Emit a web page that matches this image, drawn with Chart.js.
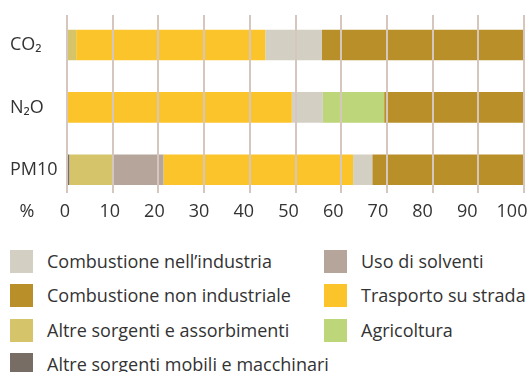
<!DOCTYPE html>
<html>
<head>
<meta charset="utf-8">
<script src="https://cdn.jsdelivr.net/npm/chart.js@4/dist/chart.umd.min.js"></script>
<style>
  html, body { margin: 0; padding: 0; background: #fff; }
  #wrap { position: relative; width: 531px; height: 372px; font-family: "Open Sans", sans-serif; color: #333; }
  #chartBox { position: absolute; left: 0; top: 0; width: 531px; height: 240px; }
  #legend {
    position: absolute; left: 10px; top: 250px;
    display: grid; grid-auto-flow: column;
    grid-template-rows: repeat(4, 34.3px); grid-template-columns: 314px auto;
  }
  .item { display: flex; align-items: flex-start; font-size: 18px; line-height: 22px; white-space: nowrap; }
  .sw { width: 23px; height: 23px; margin-right: 14px; flex: none; }
</style>
</head>
<body>
<div id="wrap">
  <div id="chartBox"><canvas id="c"></canvas></div>
  <div id="legend"></div>
</div>
<script>
// Pollutants on the category axis
const categories = ['CO₂', 'N₂O', 'PM10'];
// Percentage tick labels
const tickValues = [0, 10, 20, 30, 40, 50, 60, 70, 80, 90, 100];
const unitLabel = '%';

// Share (%) of each source for CO₂, N₂O, PM10
const altreMobili      = [0,    0,    0.5];
const altreSorgenti    = [2.0,  0,    9.7];
const usoSolventi      = [0,    0,    10.9];
const trasporto        = [41.4, 49.2, 41.5];
const combIndustria    = [12.4, 6.8,  4.2];
const agricoltura      = [0,    13.4, 0];
const combNonIndustr   = [44.2, 30.6, 33.2];

const seriesNames = {
  altreMobili: 'Altre sorgenti mobili e macchinari',
  altreSorgenti: 'Altre sorgenti e assorbimenti',
  usoSolventi: 'Uso di solventi',
  trasporto: 'Trasporto su strada',
  combIndustria: 'Combustione nell’industria',
  agricoltura: 'Agricoltura',
  combNonIndustr: 'Combustione non industriale'
};
const seriesColors = {
  altreMobili: '#776d65',
  altreSorgenti: '#d6c46b',
  usoSolventi: '#b5a59a',
  trasporto: '#fbc42b',
  combIndustria: '#d3cfc3',
  agricoltura: '#bdd67a',
  combNonIndustr: '#b98f29'
};
const seriesValues = { altreMobili, altreSorgenti, usoSolventi, trasporto, combIndustria, agricoltura, combNonIndustr };
const stackOrder = ['altreMobili', 'altreSorgenti', 'usoSolventi', 'trasporto', 'combIndustria', 'agricoltura', 'combNonIndustr'];
const legendOrder = ['combIndustria', 'combNonIndustr', 'altreSorgenti', 'altreMobili', 'usoSolventi', 'trasporto', 'agricoltura'];

const FONT = '"Open Sans", sans-serif';
// Position of the unit label on the label axis, left of the zero tick
const UNIT_POS = -8.5;

// Vertical gridlines drawn over the bars
const gridOverlay = {
  id: 'gridOverlay',
  afterDatasetsDraw(chart, args, opts) {
    const { ctx } = chart;
    const x = chart.scales.x;
    ctx.save();
    ctx.strokeStyle = opts.color;
    ctx.lineWidth = opts.width;
    tickValues.forEach(v => {
      const px = Math.round(x.getPixelForValue(v));
      ctx.beginPath();
      ctx.moveTo(px, opts.top);
      ctx.lineTo(px, opts.bottom);
      ctx.stroke();
    });
    ctx.restore();
  }
};

const datasets = stackOrder.map(k => ({
  label: seriesNames[k],
  data: seriesValues[k],
  backgroundColor: seriesColors[k],
  borderWidth: 0,
  categoryPercentage: 1,
  barPercentage: 0.49
}));

const chart = new Chart(document.getElementById('c'), {
  type: 'bar',
  data: { labels: categories, datasets },
  options: {
    indexAxis: 'y',
    responsive: true,
    maintainAspectRatio: false,
    animation: false,
    layout: { padding: { left: 10, right: 7, top: 12, bottom: 0 } },
    plugins: {
      legend: { display: false },
      tooltip: { enabled: false },
      gridOverlay: { color: '#d5c7be', width: 2, top: 15, bottom: 193 }
    },
    scales: {
      x: { display: false, stacked: true, min: 0, max: 100 },
      xl: {
        type: 'linear',
        position: 'bottom',
        min: 0.447,
        max: 102.68,
        grid: { display: false },
        border: { display: false },
        afterBuildTicks: s => { s.ticks = [UNIT_POS, ...tickValues].map(v => ({ value: v })); },
        afterFit: s => { s.height = 39; s.paddingLeft = 0; s.paddingRight = 0; },
        ticks: {
          autoSkip: false, maxRotation: 0, padding: -8, color: '#333',
          font: { family: FONT, size: 18 },
          callback: v => (v === UNIT_POS ? unitLabel : String(v))
        }
      },
      y: {
        stacked: true,
        grid: { display: false },
        border: { display: false },
        afterFit: s => { s.width = 57; },
        ticks: { crossAlign: 'far', color: '#333', font: { family: FONT, size: 18 } }
      }
    }
  },
  plugins: [gridOverlay]
});

// Two-column legend built from the chart's datasets
const legendEl = document.getElementById('legend');
legendOrder.forEach(k => {
  const ds = chart.data.datasets.find(d => d.label === seriesNames[k]);
  const item = document.createElement('div');
  item.className = 'item';
  const sw = document.createElement('span');
  sw.className = 'sw';
  sw.style.background = ds.backgroundColor;
  const txt = document.createElement('span');
  txt.textContent = ds.label;
  item.appendChild(sw);
  item.appendChild(txt);
  legendEl.appendChild(item);
});
</script>
</body>
</html>
